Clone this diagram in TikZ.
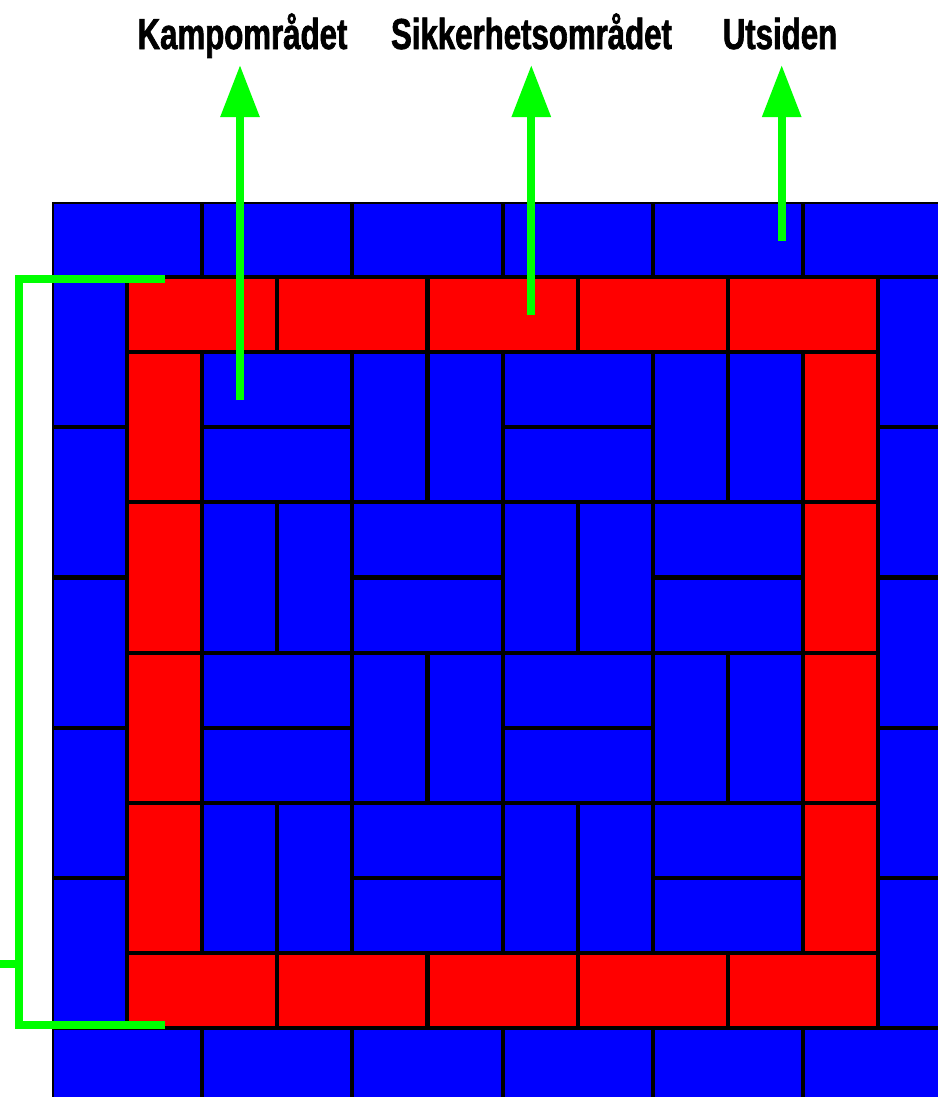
\documentclass[tikz,border=0pt]{standalone}
\usepackage{fontspec}
\newfontfamily\lblfont{Liberation Sans}[FakeStretch=0.72,BoldFeatures={FakeBold=1.5}]
\usetikzlibrary{arrows.meta}
\definecolor{tblue}{HTML}{0000FF}
\definecolor{tred}{HTML}{FF0000}
\definecolor{tgreen}{HTML}{00FF00}
\newcommand{\U}{75.1}
\newcommand{\tileat}[5]{% col,row,w,h,style
  \path[#5] ({52+\U*#1+1},{202+\U*#2+1}) rectangle ({52+\U*(#1+#3)-1},{202+\U*(#2+#4)-1});}
\tikzset{
  bluetile/.style={fill=tblue,draw=black,line width=1.6pt},
  redtile/.style={fill=tred,draw=black,line width=1.6pt},
  greenline/.style={draw=tgreen,line width=6pt},
  greenarrow/.style={greenline,-{Triangle[length=39pt,width=28pt]}},
  lbl/.style={anchor=base,inner sep=0pt,font=\lblfont\bfseries\fontsize{32.5}{36}\selectfont}
}
\begin{document}
\begin{tikzpicture}[x=0.75pt,y=-0.75pt]
\useasboundingbox (0,0) rectangle (938,1097);
\fill[white] (0,0) rectangle (938,1097);
\begin{scope}
\clip (0,0) rectangle (938,1097);
% outer blue ring
\foreach \c in {0,2,4,6,8,10} {\tileat{\c}{0}{2}{1}{bluetile}\tileat{\c}{11}{2}{1}{bluetile}}
\foreach \r in {1,3,5,7,9} {\tileat{0}{\r}{1}{2}{bluetile}\tileat{11}{\r}{1}{2}{bluetile}}
% red ring
\foreach \c in {1,3,5,7,9} {\tileat{\c}{1}{2}{1}{redtile}\tileat{\c}{10}{2}{1}{redtile}}
\foreach \r in {2,4,6,8} {\tileat{1}{\r}{1}{2}{redtile}\tileat{10}{\r}{1}{2}{redtile}}
% interior horizontal
\foreach \c/\r in {2/2,2/3,6/2,6/3,4/4,4/5,8/4,8/5,2/6,2/7,6/6,6/7,4/8,4/9,8/8,8/9}
  {\tileat{\c}{\r}{2}{1}{bluetile}}
% interior vertical
\foreach \c/\r in {4/2,5/2,8/2,9/2,2/4,3/4,6/4,7/4,4/6,5/6,8/6,9/6,2/8,3/8,6/8,7/8}
  {\tileat{\c}{\r}{1}{2}{bluetile}}
\end{scope}
% labels
\node[lbl] (kamp) at (242.5,49) {Kampområdet};
\node[lbl] (sikk) at (531.5,49) {Sikkerhetsområdet};
\node[lbl] (uts) at (780,49) {Utsiden};
% arrows
\coordinate (kampS) at (240,400);
\coordinate (kampT) at (240,65);
\coordinate (sikkS) at (531.3,315);
\coordinate (sikkT) at (531.3,65);
\coordinate (utsS) at (781.7,241);
\coordinate (utsT) at (781.7,65);
\draw[greenarrow] (kampS) -- (kampT);
\draw[greenarrow] (sikkS) -- (sikkT);
\draw[greenarrow] (utsS) -- (utsT);
% bracket
\coordinate (bTopEnd) at (165,279);
\coordinate (bTopCorner) at (19,279);
\coordinate (bBotCorner) at (19,1025);
\coordinate (bBotEnd) at (165,1025);
\coordinate (bStubIn) at (19,964);
\coordinate (bStubOut) at (0,964);
\draw[greenline,line join=miter] (bTopEnd) -- (bTopCorner) -- (bBotCorner) -- (bBotEnd);
\draw[greenline] (bStubIn) -- (bStubOut);
\end{tikzpicture}
\end{document}
